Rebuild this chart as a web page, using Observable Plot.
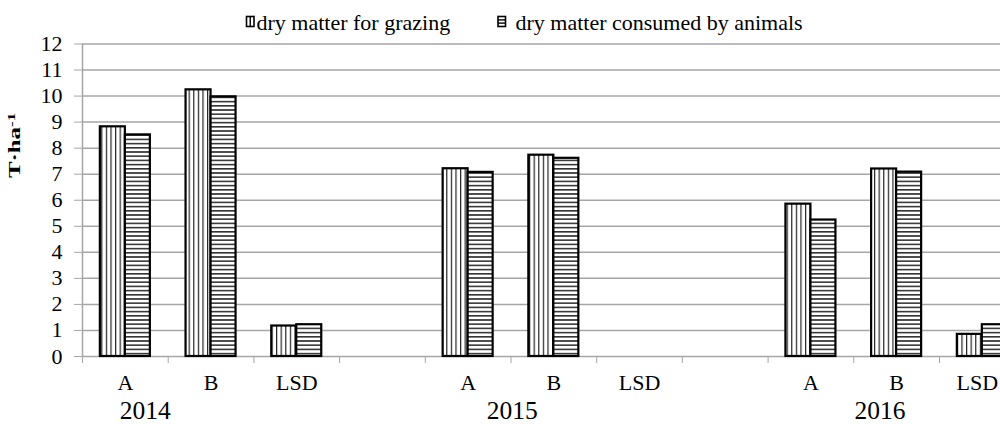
<!DOCTYPE html>
<html>
<head>
<meta charset="utf-8">
<script src="https://cdn.jsdelivr.net/npm/d3@7"></script>
<script src="https://cdn.jsdelivr.net/npm/@observablehq/plot@0.6"></script>
<style>
  body { margin: 0; background: #fff; }
  #wrap { position: relative; width: 1000px; height: 424px; overflow: hidden; background: #fff;
          font-family: "Liberation Serif", "Times New Roman", serif; }
  #chart { position: absolute; left: 0; top: 0; width: 1030px; }
  #chart svg { max-width: none !important; }
  #legend { position: absolute; left: 0; top: 0; }
</style>
</head>
<body>
<div id="wrap"><div id="chart"></div><svg id="legend" width="1000" height="40"></svg></div>
<script>
// ---- data ----
const years = ["2014", "2015", "2016"];
const groups = ["A", "B", "LSD"];
const seriesNames = ["dry matter for grazing", "dry matter consumed by animals"];
// year-major order: 2014 A,B,LSD | 2015 A,B,LSD | 2016 A,B,LSD
const grazing  = [8.82, 10.24, 1.17, 7.21, 7.73, null, 5.85, 7.20, 0.85];
const consumed = [8.51,  9.97, 1.22, 7.07, 7.61, null, 5.24, 7.08, 1.22];
const yTicks = [0,1,2,3,4,5,6,7,8,9,10,11,12];

// ---- build table: each year occupies 3 slots followed by one empty slot ----
const rows = [];
years.forEach((yr, k) => groups.forEach((g, j) => {
  const i = k * groups.length + j;
  rows.push({year: yr, group: g, slot: k * (groups.length + 1) + j, grazing: grazing[i], consumed: consumed[i]});
}));
const nSlots = years.length * (groups.length + 1) - 1; // 11
const lastSlot = d3.max(rows, d => d.slot);
const yearRows = years.map((yr, k) => ({year: yr, slot: k * (groups.length + 1)}));
const yearDx = [20, 44, 69];

const gray = "#a6a6a6";
const slotW = 85.7;
const barW = 25;
const serif = '"Liberation Serif", "Times New Roman", serif';

const plot = Plot.plot({
  width: 82 + nSlots * slotW,
  height: 424,
  marginLeft: 82,
  marginRight: 0,
  marginTop: 43.5,
  marginBottom: 68,
  style: {fontFamily: serif, background: "white", color: "black", maxWidth: "none"},
  x: {type: "linear", domain: [0, nSlots]},
  y: {domain: [0, 12]},
  marks: [
    Plot.ruleY(yTicks, {stroke: gray, strokeWidth: 1.5}),
    Plot.ruleX([0], {y1: 0, y2: 12, stroke: gray, strokeWidth: 1.5}),
    Plot.axisY({ticks: yTicks, tickSize: 8, tickPadding: 12, stroke: gray, fill: "black", fontSize: 22, label: null}),
    Plot.axisX({ticks: d3.range(0, nSlots + 1), tickSize: 7, tickFormat: () => "", stroke: gray, label: null}),
    Plot.rect(rows.filter(d => d.grazing != null), {
      x1: d => d.slot, x2: d => d.slot + 1, y1: 0, y2: "grazing",
      insetLeft: slotW / 2 - barW, insetRight: slotW / 2,
      fill: "url(#vstripe)", stroke: "black", strokeWidth: 2.2
    }),
    Plot.rect(rows.filter(d => d.consumed != null), {
      x1: d => d.slot, x2: d => d.slot + 1, y1: 0, y2: "consumed",
      insetLeft: slotW / 2, insetRight: slotW / 2 - barW,
      fill: "url(#hstripe)", stroke: "black", strokeWidth: 2.2
    }),
    Plot.text(rows.filter(d => d.slot !== lastSlot), {x: d => d.slot + 0.5, y: 0, text: "group", dy: 34, lineAnchor: "bottom", fontSize: 22, fill: "black"}),
    Plot.text(rows.filter(d => d.slot === lastSlot), {x: d => d.slot + 0.5, y: 0, text: "group", dx: -5, dy: 34, lineAnchor: "bottom", fontSize: 22, fill: "black"}),
    ...yearRows.map((r, k) => Plot.text([r], {x: d => d.slot + 0.5, y: 0, text: "year", dx: yearDx[k], dy: 62.5, lineAnchor: "bottom", fontSize: 25.5, fill: "black"}))
  ]
});
document.getElementById("chart").appendChild(plot);

// ---- hatch patterns ----
const svg = d3.select(plot);
const defs = svg.insert("defs", ":first-child");
const pv = defs.append("pattern").attr("id", "vstripe").attr("patternUnits", "userSpaceOnUse").attr("width", 4.6).attr("height", 10);
pv.append("rect").attr("width", 4.6).attr("height", 10).attr("fill", "white");
pv.append("rect").attr("x", 0).attr("width", 1.2).attr("height", 10).attr("fill", "#222");
const ph = defs.append("pattern").attr("id", "hstripe").attr("patternUnits", "userSpaceOnUse").attr("width", 10).attr("height", 4.2);
ph.append("rect").attr("width", 10).attr("height", 4.2).attr("fill", "white");
ph.append("rect").attr("y", 0).attr("width", 10).attr("height", 1.6).attr("fill", "#333");

// ---- y axis title ----
const yt = svg.append("text")
  .attr("transform", "translate(20,178) rotate(-90) scale(1.55,1)")
  .attr("text-anchor", "start")
  .attr("font-weight", "bold").attr("font-size", 16).attr("fill", "black")
  .attr("font-family", serif);
yt.append("tspan").text("T·ha");
yt.append("tspan").attr("dy", "-0.45em").attr("font-size", 11).text("-1");

// ---- legend ----
const lg = d3.select("#legend").attr("font-family", serif);
const sw1 = lg.append("g").attr("transform", "translate(246.5,16.5)");
sw1.append("rect").attr("width", 7.5).attr("height", 10).attr("fill", "white").attr("stroke", "black").attr("stroke-width", 1.6);
sw1.append("line").attr("x1", 3.75).attr("x2", 3.75).attr("y1", 0).attr("y2", 10).attr("stroke", "black").attr("stroke-width", 1.4);
lg.append("text").attr("x", 256.5).attr("y", 29.5).attr("font-size", 22).attr("fill", "black").text(seriesNames[0]);
const sw2 = lg.append("g").attr("transform", "translate(498,16.5)");
sw2.append("rect").attr("width", 7.5).attr("height", 10).attr("fill", "white").attr("stroke", "black").attr("stroke-width", 1.6);
[3.4, 6.6].forEach(y => sw2.append("line").attr("x1", 0).attr("x2", 7.5).attr("y1", y).attr("y2", y).attr("stroke", "black").attr("stroke-width", 1.4));
lg.append("text").attr("x", 515.5).attr("y", 29.5).attr("font-size", 22).attr("fill", "black").text(seriesNames[1]);
</script>
</body>
</html>
